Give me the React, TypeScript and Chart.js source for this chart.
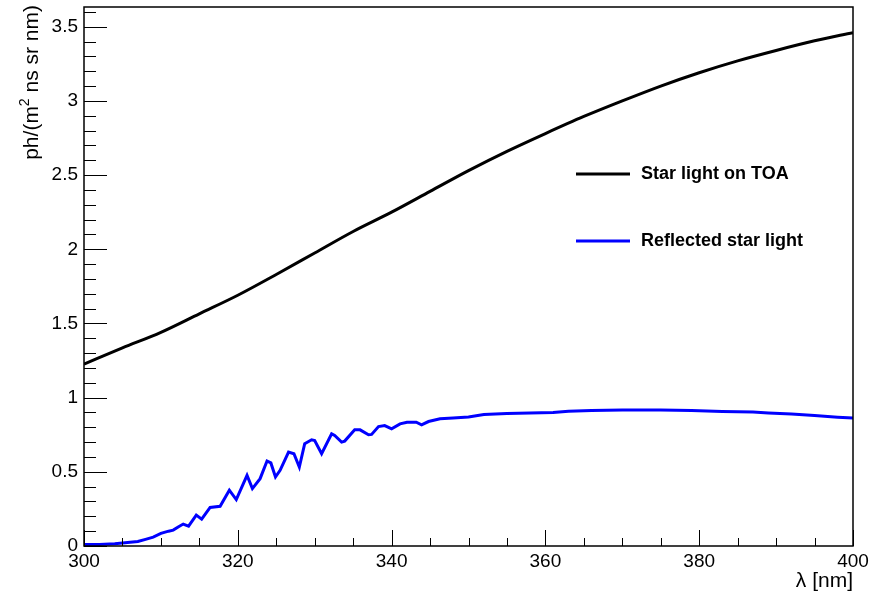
import React, { useEffect, useRef } from "react";
import { Chart, registerables } from "chart.js";

Chart.register(...registerables);

// ---------------- data ----------------
const starWavelengths = [300, 305, 310, 315, 320, 325, 330, 335, 340, 345, 350, 355, 360, 365, 370, 375, 380, 385, 390, 395, 400];
const starValues = [1.226, 1.335, 1.44, 1.565, 1.69, 1.83, 1.975, 2.12, 2.25, 2.39, 2.53, 2.66, 2.78, 2.895, 3.0, 3.1, 3.19, 3.27, 3.34, 3.405, 3.46];

const reflWavelengths = [
  300, 302, 304, 305, 306, 307, 308, 309, 310, 311, 311.6, 312.3, 312.9, 313.6, 314.6, 315.3, 316.4, 317.7,
  318.9, 319.8, 321.2, 321.9, 322.9, 323.8, 324.3, 324.9, 325.5, 326.6, 327.3, 328.0, 328.7, 329.6, 330.0,
  330.9, 332.2, 332.6, 333.5, 333.9, 335.2, 335.9, 337.0, 337.4, 338.3, 339.1, 340.0, 341.1, 342.0, 343.2,
  343.9, 344.8, 346.3, 348, 350, 352, 355, 358, 361, 363, 366, 370, 375, 379, 383, 387, 389, 392, 395, 398, 400,
];
const reflValues = [
  0.01, 0.01, 0.015, 0.02, 0.025, 0.03, 0.045, 0.06, 0.085, 0.1, 0.107, 0.13, 0.148, 0.134, 0.208, 0.181, 0.26, 0.268,
  0.376, 0.313, 0.476, 0.387, 0.454, 0.573, 0.56, 0.465, 0.51, 0.633, 0.622, 0.532, 0.69, 0.716, 0.711,
  0.622, 0.756, 0.745, 0.7, 0.707, 0.783, 0.783, 0.75, 0.752, 0.805, 0.812, 0.79, 0.823, 0.834, 0.834,
  0.817, 0.839, 0.857, 0.862, 0.87, 0.886, 0.893, 0.897, 0.9, 0.908, 0.914, 0.917, 0.917, 0.913, 0.906, 0.903, 0.897, 0.889, 0.879, 0.868, 0.862,
];

const seriesLabels = ["Star light on TOA", "Reflected star light"];
const seriesColors = ["#000000", "#0000ff"];

const xTickValues = [300, 320, 340, 360, 380, 400];
const yTickValues = [0, 0.5, 1, 1.5, 2, 2.5, 3, 3.5];
const xTitle = "λ [nm]";
const yTitleParts = ["ph/(m", "2", " ns sr nm)"];

const X_MIN = 300;
const X_MAX = 400;
const Y_MIN = 0;
const Y_MAX = 3.633;
const X_MINOR = 5;
const Y_MINOR = 0.1;

const FONT = "'Liberation Sans', Arial, Helvetica, sans-serif";

// ---------------- plugin: ROOT-like frame, ticks, titles, legend ----------------
const rootDecor = {
  id: "rootDecor",
  afterDraw(chart: any) {
    const { ctx, chartArea: a, scales } = chart;
    const x = scales.x;
    const y = scales.y;
    ctx.save();
    ctx.strokeStyle = "#000";
    ctx.lineWidth = 1;
    ctx.beginPath();
    const nx = Math.round((X_MAX - X_MIN) / X_MINOR);
    for (let i = 0; i <= nx; i++) {
      const v = X_MIN + i * X_MINOR;
      const px = Math.round(x.getPixelForValue(v)) + 0.5;
      const major = xTickValues.some((t) => Math.abs(t - v) < 1e-6);
      const len = major ? 16 : 8;
      ctx.moveTo(px, a.bottom);
      ctx.lineTo(px, a.bottom - len);
    }
    const ny = Math.floor((Y_MAX - Y_MIN) / Y_MINOR + 1e-6);
    for (let i = 0; i <= ny; i++) {
      const v = Y_MIN + i * Y_MINOR;
      const py = Math.round(y.getPixelForValue(v)) + 0.5;
      const major = yTickValues.some((t) => Math.abs(t - v) < 1e-6);
      const len = major ? 23 : 12;
      ctx.moveTo(a.left, py);
      ctx.lineTo(a.left + len, py);
    }
    ctx.stroke();

    // frame
    ctx.lineWidth = 1.5;
    ctx.strokeRect(a.left, a.top, a.right - a.left, a.bottom - a.top);

    // x title
    ctx.fillStyle = "#000";
    ctx.font = `21px ${FONT}`;
    ctx.textAlign = "right";
    ctx.textBaseline = "middle";
    ctx.fillText(xTitle, a.right, 581);

    // y title (rotated, aligned to top)
    ctx.save();
    ctx.translate(37.5, 5);
    ctx.rotate(-Math.PI / 2);
    ctx.textAlign = "left";
    ctx.textBaseline = "alphabetic";
    const big = `21px ${FONT}`;
    const small = `14px ${FONT}`;
    ctx.font = big;
    const w1 = ctx.measureText(yTitleParts[0]).width;
    const w3 = ctx.measureText(yTitleParts[2]).width;
    ctx.font = small;
    const w2 = ctx.measureText(yTitleParts[1]).width;
    const total = w1 + w2 + w3;
    let cx = -total;
    ctx.font = big;
    ctx.fillText(yTitleParts[0], cx, 0);
    cx += w1;
    ctx.font = small;
    ctx.fillText(yTitleParts[1], cx, -9);
    cx += w2;
    ctx.font = big;
    ctx.fillText(yTitleParts[2], cx, 0);
    ctx.restore();

    // legend
    const legendY = [174, 241];
    ctx.font = `bold 18px ${FONT}`;
    ctx.textAlign = "left";
    ctx.textBaseline = "middle";
    seriesLabels.forEach((label, i) => {
      ctx.strokeStyle = seriesColors[i];
      ctx.lineWidth = 3;
      ctx.beginPath();
      ctx.moveTo(576, legendY[i]);
      ctx.lineTo(630, legendY[i]);
      ctx.stroke();
      ctx.fillStyle = "#000";
      ctx.fillText(label, 641, legendY[i]);
    });
    ctx.restore();
  },
};

export default function App() {
  const canvasRef = useRef<HTMLCanvasElement | null>(null);

  useEffect(() => {
    const canvas = canvasRef.current;
    if (!canvas) return;
    const chart = new Chart(canvas, {
      type: "line",
      data: {
        datasets: [
          {
            label: seriesLabels[0],
            data: starWavelengths.map((w, i) => ({ x: w, y: starValues[i] })),
            borderColor: seriesColors[0],
            borderWidth: 3,
            pointRadius: 0,
            cubicInterpolationMode: "monotone",
            fill: false,
          },
          {
            label: seriesLabels[1],
            data: reflWavelengths.map((w, i) => ({ x: w, y: reflValues[i] })),
            borderColor: seriesColors[1],
            borderWidth: 3,
            pointRadius: 0,
            tension: 0,
            fill: false,
          },
        ],
      },
      options: {
        responsive: false,
        animation: false,
        devicePixelRatio: 1,
        layout: { padding: { left: 0, top: 7, right: 31, bottom: 0 } },
        plugins: {
          legend: { display: false },
          tooltip: { enabled: false },
          title: { display: false },
        },
        scales: {
          x: {
            type: "linear",
            min: X_MIN,
            max: X_MAX,
            grid: { display: false, drawTicks: false },
            border: { display: false },
            afterBuildTicks: (s: any) => {
              s.ticks = xTickValues.map((v) => ({ value: v }));
            },
            afterFit: (s: any) => {
              s.height = 50;
              s.paddingLeft = 0;
              s.paddingRight = 0;
            },
            ticks: {
              color: "#000",
              font: { family: FONT, size: 19 },
              padding: 4,
              maxRotation: 0,
              autoSkip: false,
              callback: (v: any) => String(v),
            },
          },
          y: {
            type: "linear",
            min: Y_MIN,
            max: Y_MAX,
            grid: { display: false, drawTicks: false },
            border: { display: false },
            afterBuildTicks: (s: any) => {
              s.ticks = yTickValues.map((v) => ({ value: v }));
            },
            afterFit: (s: any) => {
              s.width = 84;
              s.paddingTop = 0;
              s.paddingBottom = 0;
            },
            ticks: {
              color: "#000",
              font: { family: FONT, size: 19 },
              padding: 6,
              autoSkip: false,
              callback: (v: any) => String(v),
            },
          },
        },
      },
      plugins: [rootDecor],
    });
    return () => chart.destroy();
  }, []);

  return (
    <div style={{ position: "absolute", left: 0, top: 0, width: 884, height: 596, background: "#fff" }}>
      <canvas ref={canvasRef} width={884} height={596} style={{ display: "block" }} />
    </div>
  );
}
